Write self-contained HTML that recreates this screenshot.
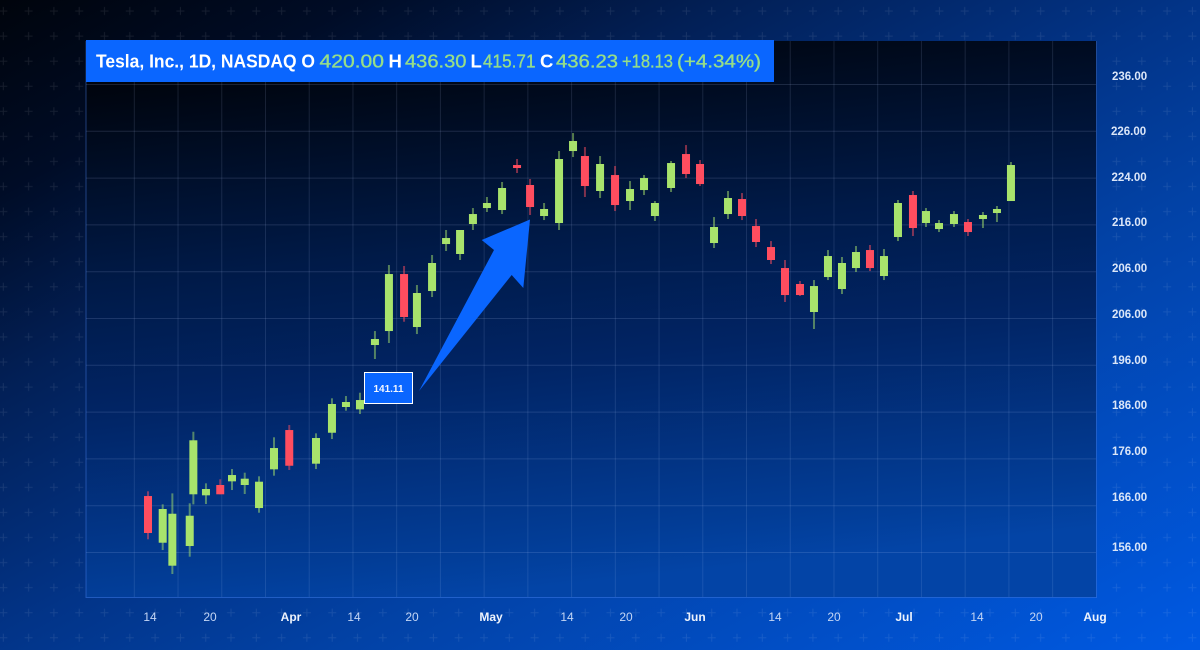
<!DOCTYPE html>
<html lang="en">
<head>
<meta charset="utf-8">
<title>Tesla candlestick chart</title>
<style>
html,body{margin:0;padding:0;width:1200px;height:650px;overflow:hidden;background:#001a4a}
svg{display:block}
text{font-family:"Liberation Sans",sans-serif}
</style>
</head>
<body>
<svg id="chart" xmlns="http://www.w3.org/2000/svg" width="1200" height="650" viewBox="0 0 1200 650">
  <defs>
    <linearGradient id="bgGrad" gradientUnits="userSpaceOnUse" x1="0" y1="0" x2="531.5" y2="996.6">
      <stop offset="0" stop-color="#00040c"/>
      <stop offset="0.15" stop-color="#000c26"/>
      <stop offset="0.3" stop-color="#021f55"/>
      <stop offset="0.5" stop-color="#023488"/>
      <stop offset="0.65" stop-color="#0242a6"/>
      <stop offset="1" stop-color="#0059e2"/>
    </linearGradient>
    <linearGradient id="panelGrad" gradientUnits="userSpaceOnUse" x1="400" y1="41" x2="460" y2="597">
      <stop offset="0" stop-color="#00030a"/>
      <stop offset="0.38" stop-color="#001a48"/>
      <stop offset="0.6" stop-color="#012464"/>
      <stop offset="0.92" stop-color="#023d97"/>
      <stop offset="1" stop-color="#0344a6"/>
    </linearGradient>
    <pattern id="plusPattern" patternUnits="userSpaceOnUse" x="-9" y="-1" width="25.3" height="25.07">
      <path d="M12.3 8v8M8.3 12h8" stroke="#ffffff" stroke-opacity="0.085" stroke-width="1" fill="none"/>
    </pattern>
  </defs>

  <rect width="1200" height="650" fill="url(#bgGrad)"/>
  <rect width="1200" height="650" fill="url(#plusPattern)"/>
  <rect x="86" y="41" width="1010.5" height="556.5" fill="url(#panelGrad)"/>
  <g id="grid"></g>
  <path d="M86 41V597.5H1096.5V41" fill="none" stroke="#4f8cff" stroke-opacity="0.4" stroke-width="1"/>
  <g id="candles"></g>

  <polygon points="530,219.5 481.7,240 494,250 419,391 511.7,275 523.3,288" fill="#0a66ff"/>

  <g>
    <rect x="364.5" y="372.5" width="48" height="31" fill="#0a66ff" stroke="#ffffff" stroke-width="1"/>
    <text x="388.5" y="392" text-anchor="middle" font-size="10" font-weight="700" fill="#f2f6ff">141.11</text>
  </g>

  <g font-size="18.5">
    <rect x="86" y="40" width="688" height="42" fill="#0a66ff"/>
    <text x="96" y="67.5" fill="#fff" font-weight="700" textLength="219" lengthAdjust="spacingAndGlyphs">Tesla, Inc., 1D, NASDAQ O</text>
    <text x="319.5" y="67.5" fill="#96de88" stroke="#96de88" stroke-width="0.35" textLength="64.5" lengthAdjust="spacingAndGlyphs">420.00</text>
    <text x="388.5" y="67.5" fill="#fff" font-weight="700">H</text>
    <text x="405" y="67.5" fill="#96de88" stroke="#96de88" stroke-width="0.35" textLength="61.5" lengthAdjust="spacingAndGlyphs">436.30</text>
    <text x="470.5" y="67.5" fill="#fff" font-weight="700">L</text>
    <text x="483" y="67.5" fill="#96de88" stroke="#96de88" stroke-width="0.35" textLength="52.5" lengthAdjust="spacingAndGlyphs">415.71</text>
    <text x="540" y="67.5" fill="#fff" font-weight="700">C</text>
    <text x="556" y="67.5" fill="#96de88" stroke="#96de88" stroke-width="0.35" textLength="62" lengthAdjust="spacingAndGlyphs">436.23</text>
    <text x="622" y="67.5" fill="#96de88" stroke="#96de88" stroke-width="0.35" textLength="51" lengthAdjust="spacingAndGlyphs">+18.13</text>
    <text x="677" y="67.5" fill="#96de88" stroke="#96de88" stroke-width="0.35" textLength="84" lengthAdjust="spacingAndGlyphs">(+4.34%)</text>
  </g>

  <g font-size="11.5" font-weight="700" fill="#dbe6f8">
    <text x="1112" y="80">236.00</text>
    <text x="1111" y="135">226.00</text>
    <text x="1111.5" y="181">224.00</text>
    <text x="1112" y="226">216.00</text>
    <text x="1112" y="272">206.00</text>
    <text x="1112" y="318">206.00</text>
    <text x="1112" y="364">196.00</text>
    <text x="1112" y="409">186.00</text>
    <text x="1112" y="455">176.00</text>
    <text x="1112" y="501">166.00</text>
    <text x="1112" y="551">156.00</text>
  </g>

  <g font-size="12" fill="#c4d6f5" text-anchor="middle">
    <text x="150" y="621">14</text>
    <text x="210" y="621">20</text>
    <text x="291" y="621" font-weight="700" fill="#eef3fc">Apr</text>
    <text x="354" y="621">14</text>
    <text x="412" y="621">20</text>
    <text x="491" y="621" font-weight="700" fill="#eef3fc">May</text>
    <text x="567" y="621">14</text>
    <text x="626" y="621">20</text>
    <text x="695" y="621" font-weight="700" fill="#eef3fc">Jun</text>
    <text x="775" y="621">14</text>
    <text x="834" y="621">20</text>
    <text x="904" y="621" font-weight="700" fill="#eef3fc">Jul</text>
    <text x="977" y="621">14</text>
    <text x="1036" y="621">20</text>
    <text x="1095" y="621" font-weight="700" fill="#eef3fc">Aug</text>
  </g>
</svg>

<script>
// Session position of every candle (fractional because the source chart spaces them unevenly)
var sessions = [0,1.05,1.74,2.98,3.24,4.14,5.16,6,6.91,7.93,9,10.09,12,13.14,14.14,15.14,16.21,17.21,18.29,19.21,20.29,21.29,22.29,23.21,24.21,25.29,26.36,27.29,28.29,29.36,30.36,31.21,32.29,33.36,34.43,35.43,36.21,37.36,38.43,39.43,40.43,41.43,42.43,43.43,44.5,45.5,46.57,47.57,48.57,49.57,50.57,51.57,52.57,53.57,54.64,55.57,56.5,57.57,58.57,59.64,60.64,61.64];
var opens = [165.16,157.38,153.55,156.83,165.45,165.28,167,167.61,167,163.16,169.61,176.16,170.55,175.71,180,179.61,190.33,192.66,202.16,193.33,199.33,207.16,205.5,210.5,213.16,212.83,220.33,217,211.83,210.66,222.66,221.83,216,218.66,214.33,216.16,211.83,216.5,222.16,220.5,207.33,212.16,214.66,210.16,206.66,203.16,200.5,195.83,201.66,199.66,203.16,206.16,201.83,208.33,215.33,210.66,209.66,210.5,210.83,211.33,212.33,214.33];
var closes = [159,163,162.21,161.88,174.45,166.33,165.45,168.66,168.05,167.55,173.16,170.21,174.83,180.5,180.83,181.16,191.33,202.16,195,199,204,208.16,209.5,212.16,214,216.5,219.83,213.33,213,221.33,224.33,216.83,220.5,213.66,216.33,218.16,214,220.66,218.83,217.16,210,214.83,211.83,207.5,204.5,198.66,198.66,200.16,205.16,204,205.83,203.16,205.16,214,209.83,212.66,210.66,212.16,209.16,212,213,220.33];
var highs = [165.95,163.78,165.61,163.95,175.88,167.28,167.95,169.66,169.05,168.45,174.95,177,175.61,181.45,181.83,182.38,192.66,203.66,203.5,200.33,205.33,209.5,209.5,213.16,215,217.5,221.33,218,214,222.66,225.66,223.33,221.83,220.16,217.66,218.66,214.33,221,223.66,221.16,211.66,216,215.66,211.33,207.66,204.5,201,201.16,206.16,205,206.83,207,206.33,214.5,216,213.16,211.16,212.66,211.33,212.5,213.5,220.83];
var lows = [157.95,156.16,152.16,155.05,163.78,163.83,165.45,166.16,165.5,162.38,168.55,169.5,169.66,174.66,179.38,178.83,188,190.66,194.21,192.16,198.33,206,204.5,209.5,212.5,212.16,219,212,211.16,209.5,221.66,215,214.83,212.66,212.83,215.33,211,215.83,218.16,216.83,206.5,211.33,211.16,206.66,203.83,197.5,198.5,193,201.16,198.83,202.5,202.66,201.16,207.66,208.5,210,209.16,210,208.5,209.83,210.83,214.33];

var SVG_NS = 'http://www.w3.org/2000/svg';
var UP_COLOR = '#a8e36c';
var DOWN_COLOR = '#ff4d5f';
var BODY_WIDTH = 8;

function xScale(session) { return 148 + session * 14; }
function yScale(price) { return 131 + (226 - price) * 6; }

var gridGroup = document.getElementById('grid');
var candleGroup = document.getElementById('candles');

function line(parent, x1, y1, x2, y2, stroke, width, opacity) {
  var el = document.createElementNS(SVG_NS, 'line');
  el.setAttribute('x1', x1);
  el.setAttribute('y1', y1);
  el.setAttribute('x2', x2);
  el.setAttribute('y2', y2);
  el.setAttribute('stroke', stroke);
  el.setAttribute('stroke-width', width);
  el.setAttribute('stroke-opacity', opacity);
  parent.appendChild(el);
  return el;
}

for (var gy = 0; gy < 11; gy++) {
  var yLine = 84.5 + gy * 46.8;
  var hLine = line(gridGroup, 86, yLine, 1096, yLine, '#bcd2ff', 1, 0.15);
  
  
}
for (var gx = 0; gx < 22; gx++) {
  var xLine = 134.3 + gx * 43.73;
  var vLine = line(gridGroup, xLine, 41, xLine, 597, '#bcd2ff', 1, 0.13);
  
  
}

sessions.forEach(function (session, i) {
  var color = closes[i] >= opens[i] ? UP_COLOR : DOWN_COLOR;
  var cx = xScale(session);

  var wick = line(candleGroup, cx, yScale(highs[i]), cx, yScale(lows[i]), color, 2, 0.5);
  
  

  var top = yScale(Math.max(opens[i], closes[i]));
  var bottom = yScale(Math.min(opens[i], closes[i]));
  var body = document.createElementNS(SVG_NS, 'rect');
  body.setAttribute('x', cx - BODY_WIDTH / 2);
  body.setAttribute('y', top);
  body.setAttribute('width', BODY_WIDTH);
  body.setAttribute('height', Math.max(bottom - top, 1));
  body.setAttribute('fill', color);
  
  
  candleGroup.appendChild(body);
});
</script>
</body>
</html>
